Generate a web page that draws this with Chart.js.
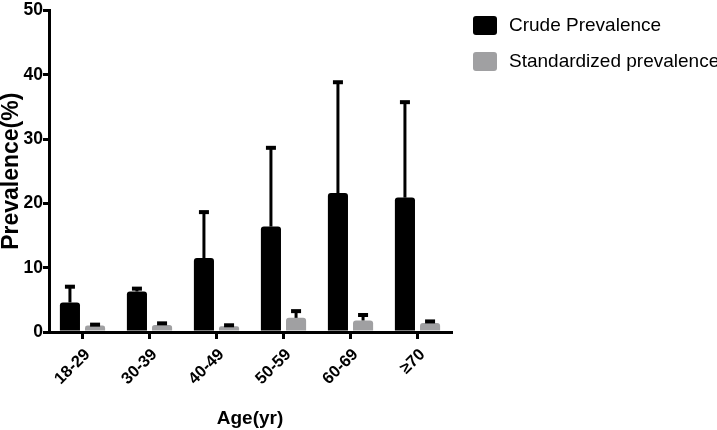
<!DOCTYPE html>
<html>
<head>
<meta charset="utf-8">
<script src="https://cdn.jsdelivr.net/npm/chart.js@4/dist/chart.umd.min.js"></script>
<style>
html,body{margin:0;padding:0;background:#fff;}
#wrap{position:relative;width:717px;height:430px;}
#legend{position:absolute;left:473px;top:15px;font-family:"Liberation Sans",Arial,sans-serif;font-size:19px;color:#000;}
.li{display:flex;align-items:center;height:20px;margin-bottom:16px;white-space:nowrap;}
.sw{width:24px;height:19px;border-radius:3px;margin-right:12px;}
</style>
</head>
<body>
<div id="wrap">
<canvas id="c" width="717" height="430"></canvas>
<div id="legend"></div>
</div>
<script>
const categories = ['18-29','30-39','40-49','50-59','60-69','\u226570'];
const seriesNames = ['Crude Prevalence','Standardized prevalence'];
const crude = [4.6, 6.3, 11.5, 16.4, 21.6, 20.9];
const crudeErrTop = [7.2, 6.9, 18.8, 28.8, 39.0, 35.9];
const standardized = [1.0, 1.1, 0.9, 2.2, 1.8, 1.4];
const standardizedErrTop = [1.3, 1.5, 1.2, 3.4, 2.8, 1.8];
const yTicks = [0, 10, 20, 30, 40, 50];

const colors = ['#000000', '#a0a0a2'];
const errTops = [crudeErrTop, standardizedErrTop];

const lg = document.getElementById('legend');
seriesNames.forEach((n, i) => {
  const d = document.createElement('div'); d.className = 'li';
  const s = document.createElement('div'); s.className = 'sw'; s.style.background = colors[i];
  const t = document.createElement('span'); t.textContent = n;
  d.appendChild(s); d.appendChild(t); lg.appendChild(d);
});

const errorBars = {
  id: 'errorBars',
  afterDatasetsDraw(chart) {
    const ctx = chart.ctx, ys = chart.scales.y;
    chart.data.datasets.forEach((ds, di) => {
      const meta = chart.getDatasetMeta(di);
      meta.data.forEach((el, i) => {
        const top = ys.getPixelForValue(errTops[di][i]);
        ctx.save();
        ctx.strokeStyle = '#000'; ctx.lineWidth = 3;
        ctx.beginPath(); ctx.moveTo(el.x, el.y); ctx.lineTo(el.x, top); ctx.stroke();
        ctx.fillStyle = '#000';
        ctx.fillRect(el.x - 5, top - 1, 10, 4);
        ctx.restore();
      });
    });
  }
};

const font = { family: '"Liberation Sans", Arial, sans-serif', weight: 'bold' };

new Chart(document.getElementById('c'), {
  type: 'bar',
  data: {
    labels: categories,
    datasets: [
      { label: seriesNames[0], data: crude, backgroundColor: colors[0], borderRadius: 3, borderSkipped: 'bottom', barPercentage: 0.8, categoryPercentage: 0.75 },
      { label: seriesNames[1], data: standardized, backgroundColor: colors[1], borderRadius: 3, borderSkipped: 'bottom', barPercentage: 0.8, categoryPercentage: 0.75 }
    ]
  },
  options: {
    responsive: false,
    animation: false,
    devicePixelRatio: 1,
    layout: { padding: { left: 0, right: 266, top: 7, bottom: 0 } },
    plugins: { legend: { display: false }, tooltip: { enabled: false } },
    scales: {
      x: {
        offset: true,
        grid: { offset: false, drawOnChartArea: false, drawTicks: true, tickLength: 7, lineWidth: 3, color: '#000' },
        border: { display: true, width: 3, color: '#000' },
        ticks: { color: '#000', font: { ...font, size: 16.5 }, minRotation: 45, maxRotation: 45, padding: 6, labelOffset: 5 },
        title: { display: true, text: 'Age(yr)', color: '#000', font: { ...font, size: 19 }, padding: { top: 4, bottom: 0 } },
        afterFit(s) { s.height = 98; }
      },
      y: {
        min: 0, max: 50,
        afterBuildTicks(s) { s.ticks = yTicks.map(v => ({ value: v })); },
        grid: { drawOnChartArea: false, drawTicks: true, tickLength: 6, lineWidth: 3, color: '#000' },
        border: { display: true, width: 3, color: '#000' },
        ticks: { color: '#000', font: { ...font, size: 17.5 }, padding: 0 },
        title: { display: true, text: 'Prevalence(%)', color: '#000', font: { ...font, size: 23, lineHeight: 0.85 }, padding: { top: 2, bottom: 0 } },
        afterFit(s) { s.width = 49; }
      }
    }
  },
  plugins: [errorBars]
});
</script>
</body>
</html>
